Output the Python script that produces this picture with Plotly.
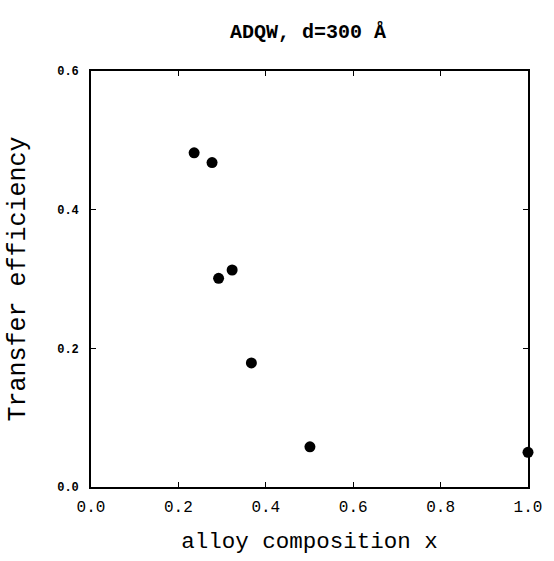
import plotly.graph_objects as go

alloy_x = [0.236, 0.277, 0.292, 0.323, 0.367, 0.501, 1.0]
efficiency = [0.482, 0.468, 0.301, 0.313, 0.179, 0.058, 0.050]
x_ticks = [0.0, 0.2, 0.4, 0.6, 0.8, 1.0]
y_ticks = [0.0, 0.2, 0.4, 0.6]

MONO = "Liberation Mono, Courier New, monospace"

fig = go.Figure()
fig.add_trace(go.Scatter(
    x=alloy_x, y=efficiency, mode="markers",
    marker=dict(size=11, color="black"),
    cliponaxis=False, showlegend=False,
))

axis_common = dict(
    showline=True, linecolor="black", linewidth=1.6, mirror="ticks",
    ticks="inside", ticklen=5, tickwidth=1.3, tickcolor="black",
    showgrid=False, zeroline=False,
)

fig.update_layout(
    width=554, height=561,
    margin=dict(l=91, r=20, t=71, b=66),
    paper_bgcolor="white", plot_bgcolor="white",
    xaxis=dict(
        range=[0, 1.0], tickvals=x_ticks,
        ticktext=[f"{v:.1f}" for v in x_ticks],
        tickfont=dict(family=MONO, size=16, color="black"),
        ticklabelstandoff=4,
        title=dict(text="alloy composition x",
                   font=dict(family=MONO, size=22.5, color="black"),
                   standoff=16),
        **axis_common,
    ),
    yaxis=dict(
        range=[0, 0.6], tickvals=y_ticks,
        ticktext=[f"<b>{v:.1f}</b>" for v in y_ticks],
        tickfont=dict(family=MONO, size=12, color="black"),
        ticklabelstandoff=8,
        title=dict(text="Transfer efficiency",
                   font=dict(family=MONO, size=25, color="black"),
                   standoff=24),
        **axis_common,
    ),
    annotations=[dict(
        text="<b>ADQW, d=300 Å</b>", xref="paper", yref="paper",
        x=0.497, y=1.094, xanchor="center", yanchor="middle",
        showarrow=False, font=dict(family=MONO, size=20, color="black"),
    )],
)

fig.write_html(
    "out.html",
    config={"displayModeBar": False},
    post_script="document.body.style.margin='0';document.body.style.overflow='hidden';",
)
